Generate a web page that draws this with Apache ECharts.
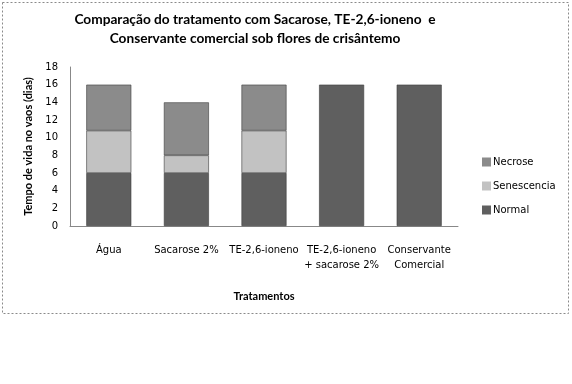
<!DOCTYPE html>
<html><head><meta charset="utf-8">
<script src="https://cdn.jsdelivr.net/npm/echarts@6/dist/echarts.min.js"></script>
<style>html,body{margin:0;padding:0;background:#fff}#c{width:572px;height:384px}</style>
</head><body><div id="c"></div>
<script>
const categories = ['Água', 'Sacarose 2%', 'TE-2,6-ioneno', 'TE-2,6-ioneno\n+ sacarose 2%', 'Conservante\nComercial'];
const normal = [6, 6, 6, 16, 16];
const senescencia = [4.8, 2, 4.8, 0, 0];
const necrose = [5.2, 6, 5.2, 0, 0];
const yTicks = { min: 0, max: 18, interval: 2 };

const chart = echarts.init(document.getElementById('c'), null, { renderer: 'canvas' });
const bar = (name, data, color) => ({
  name, type: 'bar', stack: 'total', data: data.map(v => (v === 0 ? '-' : v)), barWidth: '58%',
  itemStyle: { color, borderColor: '#3c3c3c', borderWidth: 0.6 },
  emphasis: { disabled: true }
});
chart.setOption({
  animation: false,
  graphic: [{ type: 'rect', shape: { x: 2.5, y: 2.5, width: 566, height: 311 },
    style: { fill: 'none', stroke: '#8a8a8a', lineWidth: 1, lineDash: [2, 2] }, silent: true }],
  title: {
    text: 'Comparação do tratamento com Sacarose, TE-2,6-ioneno  e\nConservante comercial sob flores de crisântemo',
    left: 250, top: 5, textAlign: 'center',
    textStyle: { fontFamily: 'Lato', fontWeight: 'bold', fontSize: 13.7, lineHeight: 19, color: '#000' }
  },
  legend: {
    orient: 'vertical', left: 477, top: 152, itemWidth: 9, itemHeight: 9, itemGap: 14, icon: 'rect',
    data: ['Necrose', 'Senescencia', 'Normal'],
    textStyle: { fontFamily: 'DejaVu Sans', fontSize: 10, color: '#000', padding: [0, 0, 0, -3] },
    itemStyle: { borderWidth: 0 }
  },
  grid: { left: 70, right: 114, top: 67, bottom: 158, containLabel: false },
  xAxis: {
    type: 'category', data: categories,
    axisLine: { lineStyle: { color: '#888' } }, axisTick: { show: false },
    axisLabel: { interval: 0, color: '#000', fontFamily: 'DejaVu Sans', fontSize: 10, margin: 17, lineHeight: 15 },
    name: 'Tratamentos', nameLocation: 'middle', nameGap: 65,
    nameTextStyle: { fontFamily: 'Lato', fontWeight: 'bold', fontSize: 11, color: '#000' }
  },
  yAxis: {
    type: 'value', min: yTicks.min, max: yTicks.max, interval: yTicks.interval,
    splitLine: { show: false },
    axisLine: { show: true, lineStyle: { color: '#888' } }, axisTick: { show: false },
    axisLabel: { color: '#000', fontFamily: 'DejaVu Sans', fontSize: 10, margin: 12 },
    name: 'Tempo de vida no vaos (dias)', nameLocation: 'middle', nameGap: 36,
    nameTextStyle: { fontFamily: 'Lato', fontWeight: 'bold', fontSize: 11, color: '#000' }
  },
  series: [
    bar('Normal', normal, '#5f5f5f'),
    bar('Senescencia', senescencia, '#c2c2c2'),
    bar('Necrose', necrose, '#8b8b8b')
  ]
});
</script></body></html>
